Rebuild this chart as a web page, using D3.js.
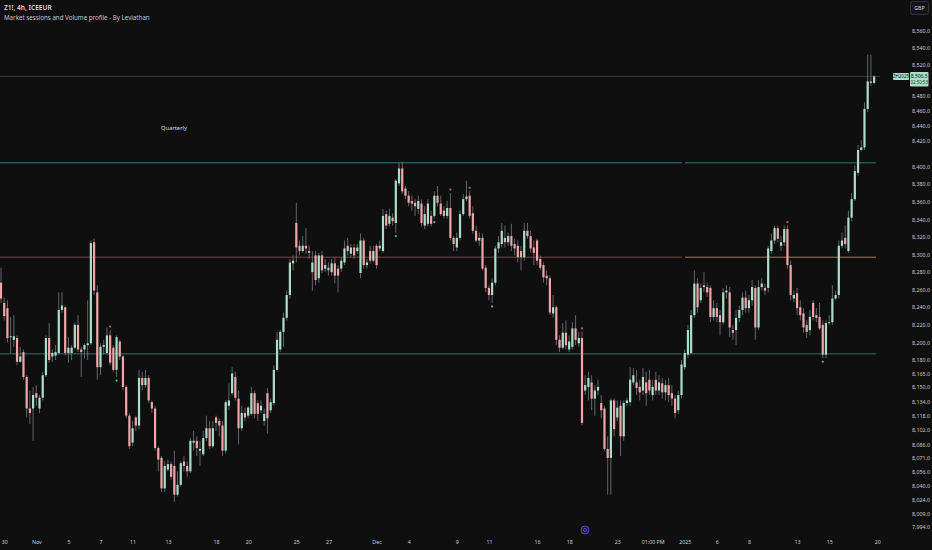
<!DOCTYPE html>
<html><head><meta charset="utf-8">
<script src="https://cdn.jsdelivr.net/npm/d3@7"></script>
<style>
html,body{margin:0;padding:0;background:#0f0f0f;overflow:hidden}
svg{display:block}
text{font-family:"Noto Sans","Roboto",sans-serif}
</style></head><body>
<svg id="c" width="932" height="550"></svg>
<script>
const opens=[8268,8245,8239,8206,8203,8205,8178,8189,8161,8126,
8126,8143,8126,8138,8163,8205,8184,8185,8188,8237,
8240,8188,8188,8194,8220,8192,8192,8197,8199,8314,
8257,8172,8195,8188,8208,8194,8169,8201,8184,8150,
8118,8088,8116,8107,8160,8152,8160,8133,8126,8082,
8071,8037,8058,8064,8062,8030,8041,8067,8062,8056,
8088,8090,8079,8075,8093,8104,8084,8116,8112,8107,
8079,8129,8143,8161,8137,8104,8121,8118,8120,8143,
8132,8124,8112,8143,8124,8132,8169,8192,8212,8228,
8254,8290,8336,8310,8304,8310,8304,8280,8299,8273,
8299,8284,8285,8280,8290,8284,8284,8291,8310,8301,
8308,8304,8279,8316,8288,8304,8293,8310,8307,8304,
8346,8335,8342,8336,8381,8398,8375,8367,8361,8359,
8352,8358,8333,8335,8344,8344,8367,8358,8350,8344,
8353,8319,8308,8319,8346,8363,8367,8347,8327,8316,
8319,8285,8262,8254,8268,8307,8312,8319,8314,8321,
8312,8310,8304,8297,8327,8321,8308,8316,8295,8288,
8276,8273,8233,8240,8203,8194,8211,8192,8195,8216,
8199,8205,8146,8150,8155,8137,8146,8132,8126,8081,
8071,8135,8116,8129,8095,8132,8133,8155,8155,8150,
8146,8155,8158,8141,8158,8146,8154,8144,8152,8143,
8137,8124,8141,8172,8186,8188,8231,8267,8248,8263,
8263,8262,8229,8239,8231,8223,8257,8257,8214,8214,
8228,8237,8251,8239,8248,8262,8217,8263,8262,8262,
8304,8316,8330,8310,8314,8329,8288,8250,8256,8240,
8233,8220,8214,8245,8231,8229,8220,8186,8222,8223,
8250,8254,8310,8319,8304,8342,8363,8393,8413,8415,
8463,8500,8498];
const highs=[8285,8251,8248,8229,8231,8208,8195,8192,8163,8146,
8150,8152,8141,8167,8208,8222,8192,8197,8257,8257,
8242,8206,8197,8223,8231,8195,8199,8248,8316,8318,
8265,8199,8203,8217,8214,8197,8208,8203,8186,8152,
8121,8112,8118,8169,8167,8169,8163,8135,8129,8084,
8073,8067,8069,8067,8079,8056,8067,8073,8067,8093,
8101,8095,8090,8101,8118,8112,8112,8118,8115,8112,
8135,8154,8172,8167,8146,8129,8127,8129,8150,8146,
8135,8135,8126,8149,8137,8174,8212,8214,8234,8259,
8295,8299,8359,8316,8321,8330,8310,8304,8304,8302,
8304,8295,8291,8295,8297,8288,8297,8316,8319,8312,
8312,8312,8324,8319,8295,8310,8310,8312,8316,8352,
8350,8352,8347,8386,8403,8404,8378,8372,8367,8363,
8367,8363,8355,8363,8350,8372,8378,8367,8355,8361,
8370,8321,8325,8350,8369,8384,8372,8355,8333,8325,
8324,8288,8265,8273,8310,8321,8336,8333,8325,8335,
8318,8316,8310,8336,8336,8327,8316,8318,8299,8291,
8282,8276,8254,8242,8208,8222,8225,8208,8223,8231,
8212,8212,8163,8167,8163,8152,8158,8141,8129,8095,
8137,8137,8135,8135,8135,8138,8172,8171,8169,8158,
8171,8167,8169,8158,8167,8163,8160,8158,8160,8152,
8141,8146,8180,8192,8220,8237,8282,8273,8267,8280,
8268,8265,8248,8245,8237,8262,8265,8263,8220,8237,
8242,8257,8259,8254,8271,8265,8271,8273,8267,8310,
8324,8333,8333,8321,8333,8333,8293,8259,8262,8248,
8239,8225,8237,8248,8239,8245,8225,8225,8231,8265,
8259,8316,8325,8333,8350,8370,8401,8417,8421,8472,
8532,8532,8508];
const lows=[8245,8225,8200,8188,8195,8174,8177,8158,8116,8109,
8090,8129,8121,8135,8161,8177,8178,8180,8186,8234,
8185,8177,8180,8192,8189,8161,8182,8180,8197,8254,
8158,8163,8186,8186,8174,8167,8161,8180,8146,8115,
8081,8084,8101,8103,8146,8149,8132,8121,8079,8056,
8033,8033,8056,8047,8022,8028,8039,8056,8050,8054,
8079,8073,8062,8073,8090,8081,8082,8101,8095,8073,
8076,8124,8141,8135,8086,8101,8112,8115,8118,8115,
8112,8121,8107,8098,8121,8129,8167,8189,8195,8225,
8250,8282,8291,8299,8302,8301,8295,8259,8265,8268,
8279,8280,8276,8276,8267,8257,8280,8288,8299,8297,
8295,8301,8273,8284,8284,8290,8291,8284,8304,8302,
8329,8332,8333,8325,8378,8369,8363,8355,8350,8344,
8346,8332,8329,8332,8332,8341,8355,8344,8341,8341,
8316,8304,8304,8316,8344,8361,8341,8324,8314,8310,
8282,8257,8248,8245,8265,8302,8308,8308,8310,8304,
8299,8291,8282,8293,8318,8302,8288,8288,8282,8268,
8265,8231,8228,8197,8189,8192,8192,8189,8192,8197,
8195,8107,8141,8135,8124,8118,8141,8115,8079,8030,
8030,8095,8112,8073,8090,8129,8129,8152,8141,8135,
8141,8129,8141,8135,8141,8141,8137,8135,8133,8129,
8115,8120,8137,8169,8182,8186,8228,8234,8245,8257,
8252,8223,8225,8223,8208,8220,8250,8206,8203,8197,
8223,8231,8234,8234,8242,8203,8214,8259,8254,8257,
8301,8312,8314,8304,8310,8284,8248,8246,8231,8225,
8211,8205,8208,8225,8223,8214,8182,8182,8220,8220,
8248,8250,8307,8307,8302,8338,8361,8390,8412,8413,
8459,8494,8496];
const closes=[8250,8230,8205,8207,8207,8178,8184,8161,8126,8121,
8141,8138,8138,8163,8205,8180,8188,8189,8237,8242,
8188,8194,8194,8220,8192,8189,8197,8199,8313,8259,
8172,8195,8197,8208,8177,8169,8206,8184,8150,8118,
8084,8104,8107,8160,8152,8160,8135,8126,8082,8069,
8037,8062,8064,8050,8030,8041,8065,8062,8056,8090,
8090,8082,8081,8093,8104,8084,8104,8110,8107,8079,
8133,8135,8165,8138,8104,8121,8116,8127,8143,8120,
8120,8129,8120,8115,8133,8169,8203,8212,8228,8254,
8291,8293,8308,8304,8310,8307,8302,8291,8271,8299,
8282,8288,8282,8290,8276,8276,8293,8307,8304,8308,
8299,8308,8316,8288,8291,8293,8304,8288,8310,8344,
8333,8344,8338,8384,8398,8372,8367,8359,8358,8355,
8361,8336,8346,8358,8335,8367,8359,8346,8344,8353,
8319,8312,8319,8346,8363,8366,8344,8327,8316,8319,
8284,8262,8254,8268,8307,8314,8327,8314,8321,8310,
8307,8297,8297,8327,8321,8307,8302,8293,8285,8274,
8273,8234,8240,8203,8194,8211,8197,8201,8216,8203,
8205,8110,8152,8160,8137,8146,8150,8124,8081,8071,
8135,8103,8127,8095,8132,8135,8158,8163,8149,8144,
8161,8143,8146,8150,8146,8155,8144,8152,8141,8137,
8121,8141,8175,8188,8214,8231,8267,8240,8262,8265,
8257,8229,8239,8229,8223,8257,8259,8217,8211,8228,
8237,8251,8239,8248,8263,8217,8263,8267,8259,8307,
8316,8330,8318,8314,8329,8288,8254,8254,8239,8231,
8217,8212,8229,8229,8228,8216,8186,8222,8223,8250,
8254,8310,8316,8312,8342,8363,8395,8413,8415,8463,
8500,8498,8506.5];

const yTicks=[8560,8540,8520,8480,8460,8440,8420,8400,8380,8360,8340,8320,8300,8280,8260,8240,8220,8200,8180,8165,8150,8134,8118,8102,8086,8071,8056,8040,8024,8009,7994];
const xTickIndex=[1,11,21,31,41,52,67,77,92,102,117,127,142,152,167,177,192,203,213,223,233,248,258,273];
const xTickLabels=["30","Nov","5","7","11","13","18","20","25","27","Dec","4","9","11","16","18","23","01:00 PM","2025","6","8","13","15","20"];
const levelPrices=[8403,8297,8187];
const levelColorsPast=["#3aa7b8","#c4485c","#3a9d95"];
const levelColorsNow=["#2f9e80","#c9a74c","#2f8f86"];
const markerIdx=[34,140,146,181,245,36,123,135,153,256];
const markerSide=["up","up","up","up","up","dn","dn","dn","dn","dn"];
const lastPrice=8506.5;
const countdown="02:50:53";
const symbolCode="ZH2025";

const W=932,H=550;
const svg=d3.select("#c");
svg.append("rect").attr("width",W).attr("height",H).attr("fill","#0f0f0f");

const x=d3.scaleLinear().domain([0,272]).range([1,874.1]);
const y=d3.scaleLinear().domain([7994,8180,8400,8420,8506.5,8560]).range([527,360,166.7,141,76.5,31]);

const UP="#a8dfc6", DN="#f0a6a8", WICK="#6b6e76";

// level lines
const split=212.6;
const lv=svg.append("g");
levelPrices.forEach((p,i)=>{
  lv.append("line").attr("x1",0).attr("x2",x(split-0.4)).attr("y1",y(p)).attr("y2",y(p))
    .attr("stroke",levelColorsPast[i]).attr("stroke-width",0.9).attr("opacity",0.8);
  lv.append("line").attr("x1",x(split+0.5)).attr("x2",x(272.6)).attr("y1",y(p)).attr("y2",y(p))
    .attr("stroke",levelColorsNow[i]).attr("stroke-width",0.9).attr("opacity",0.85);
});

// price line
svg.append("line").attr("x1",0).attr("x2",880).attr("y1",y(lastPrice)).attr("y2",y(lastPrice))
  .attr("stroke","#3f4249").attr("stroke-width",0.8);

// candles
const data=opens.map((o,i)=>({i,o,h:highs[i],l:lows[i],c:closes[i]}));
const cg=svg.append("g");
cg.selectAll("line.w").data(data).join("line").attr("class","w")
  .attr("x1",d=>x(d.i)).attr("x2",d=>x(d.i)).attr("y1",d=>y(d.h)).attr("y2",d=>y(d.l))
  .attr("stroke",WICK).attr("stroke-width",0.9);
cg.selectAll("rect.b").data(data).join("rect").attr("class","b")
  .attr("x",d=>x(d.i)-1.1).attr("width",2.2)
  .attr("y",d=>Math.min(y(d.o),y(d.c)))
  .attr("height",d=>Math.max(0.8,Math.abs(y(d.o)-y(d.c))))
  .attr("fill",d=>d.c>=d.o?UP:DN);

// markers
svg.append("g").selectAll("circle").data(markerIdx).join("circle")
  .attr("cx",d=>x(d))
  .attr("cy",(d,k)=>markerSide[k]==="up"?y(highs[d])-3.5:y(lows[d])+3.5)
  .attr("r",1.1)
  .attr("fill",(d,k)=>markerSide[k]==="up"?"#c85a6a":"#5fb89a");

// axes
const ya=svg.append("g").attr("transform","translate(911,0)")
  .call(d3.axisRight(y).tickValues(yTicks).tickFormat(d3.format(",.1f")).tickSize(0).tickPadding(1));
ya.select(".domain").remove();
ya.selectAll("text").attr("fill","#c9cbd1").attr("font-size","5.3px").style("font-family","'Noto Sans',sans-serif");

const xa=svg.append("g").attr("transform","translate(0,539)")
  .call(d3.axisBottom(x).tickValues(xTickIndex).tickFormat((d,i)=>xTickLabels[i]).tickSize(0).tickPadding(1));
xa.select(".domain").remove();
xa.selectAll("text").attr("fill","#c9cbd1").attr("font-size","5.3px").style("font-family","'Noto Sans',sans-serif");

// price label
const py=y(lastPrice);
svg.append("rect").attr("x",893).attr("y",py-3.5).attr("width",16).attr("height",7).attr("rx",1).attr("fill",UP);
svg.append("text").attr("x",901).attr("y",py+1.6).attr("text-anchor","middle").attr("font-size","4.4px").attr("fill","#0f0f0f").text(symbolCode);
svg.append("rect").attr("x",910).attr("y",py-4.5).attr("width",18.5).attr("height",14.5).attr("rx",1).attr("fill",UP);
svg.append("text").attr("x",919.2).attr("y",py+1.3).attr("text-anchor","middle").attr("font-size","5px").attr("fill","#0f0f0f").text(d3.format(",.1f")(lastPrice));
svg.append("text").attr("x",919.2).attr("y",py+7.8).attr("text-anchor","middle").attr("font-size","4.4px").attr("fill","#1a3a2e").text(countdown);

// currency box
svg.append("rect").attr("x",910.5).attr("y",1.5).attr("width",18).attr("height",13).attr("rx",2)
  .attr("fill","#141414").attr("stroke","#3a3d45").attr("stroke-width",0.8);
svg.append("text").attr("x",919.5).attr("y",10).attr("text-anchor","middle").attr("font-size","5.3px").attr("fill","#d1d4dc").text("GBP");

// titles
svg.append("text").attr("x",4).attr("y",10).attr("font-size","6.6px").attr("font-weight",600).attr("fill","#d8dae0").text("Z1!, 4h, ICEEUR");
svg.append("text").attr("x",4).attr("y",19.5).attr("font-size","6.2px").attr("fill","#c3c5cc").text("Market sessions and Volume profile - By Leviathan");
svg.append("text").attr("x",174).attr("y",130).attr("text-anchor","middle").attr("font-size","5.8px").attr("fill","#d8dae0").text("Quarterly");

// event icon
svg.append("circle").attr("cx",585).attr("cy",530).attr("r",4).attr("fill","#1d1846").attr("stroke","#5a49d6").attr("stroke-width",0.9);
svg.append("circle").attr("cx",585).attr("cy",530).attr("r",1.6).attr("fill","none").attr("stroke","#7a6cf0").attr("stroke-width",0.6);
</script>
</body></html>
